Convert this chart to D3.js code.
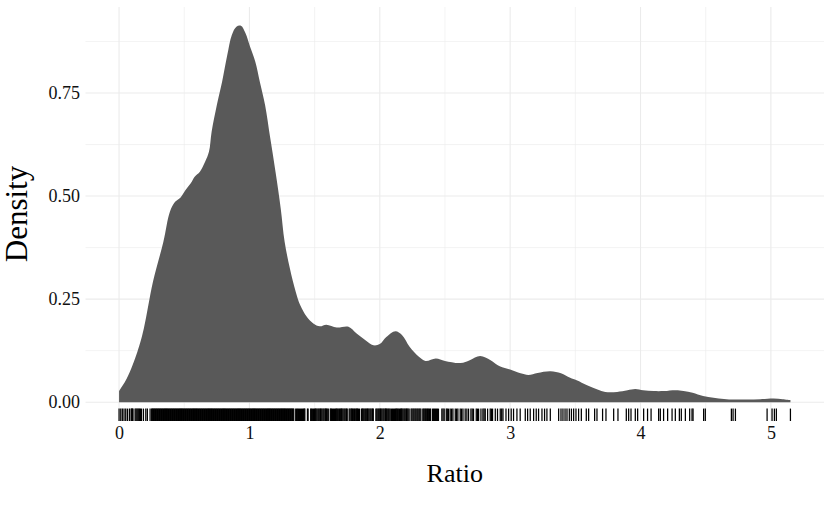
<!DOCTYPE html>
<html>
<head>
<meta charset="utf-8">
<script src="https://cdn.jsdelivr.net/npm/d3@7"></script>
<style>
  body { margin: 0; background: #fff; }
  svg { display: block; font-family: "Liberation Serif", "DejaVu Serif", serif; }
  .grid line { stroke: #ebebeb; }
</style>
</head>
<body>
<svg width="830" height="513"></svg>
<script>
// density estimate
var densX = [0, 0.06, 0.14, 0.19, 0.26, 0.34, 0.39, 0.43, 0.47, 0.51, 0.55, 0.58, 0.62, 0.66, 0.69, 0.71,
  0.75, 0.79, 0.83, 0.865, 0.90, 0.935, 0.97, 1.005, 1.045, 1.08, 1.12, 1.16, 1.20, 1.24, 1.27, 1.31,
  1.355, 1.39, 1.44, 1.49, 1.54, 1.59, 1.67, 1.76, 1.82, 1.89, 1.95, 2.00, 2.05, 2.12, 2.17, 2.23,
  2.30, 2.35, 2.43, 2.50, 2.62, 2.69, 2.77, 2.85, 2.92, 3.00, 3.08, 3.14, 3.21, 3.31, 3.39, 3.46,
  3.51, 3.59, 3.67, 3.73, 3.82, 3.90, 3.96, 4.02, 4.10, 4.18, 4.27, 4.33, 4.40, 4.48, 4.56, 4.64,
  4.72, 4.82, 4.92, 5.02, 5.09, 5.15];
var densY = [0.027, 0.058, 0.122, 0.179, 0.292, 0.389, 0.462, 0.486, 0.496, 0.515, 0.531, 0.547, 0.559, 0.583, 0.608, 0.656,
  0.721, 0.777, 0.842, 0.891, 0.911, 0.913, 0.895, 0.862, 0.826, 0.777, 0.721, 0.640, 0.559, 0.470, 0.389, 0.325,
  0.268, 0.235, 0.207, 0.191, 0.184, 0.188, 0.181, 0.183, 0.167, 0.150, 0.138, 0.141, 0.158, 0.172, 0.163, 0.134,
  0.110, 0.100, 0.106, 0.100, 0.095, 0.102, 0.112, 0.102, 0.087, 0.079, 0.070, 0.066, 0.071, 0.075, 0.070, 0.059,
  0.053, 0.041, 0.031, 0.025, 0.025, 0.029, 0.032, 0.029, 0.027, 0.027, 0.029, 0.027, 0.023, 0.015, 0.011, 0.008,
  0.0065, 0.0065, 0.0073, 0.009, 0.0073, 0.005];

var rugLow = [0.00, 0.013, 0.025, 0.038, 0.051, 0.064, 0.079, 0.092, 0.097, 0.102, 0.107, 0.123, 0.13, 0.137,
  0.144, 0.151, 0.158, 0.165, 0.172, 0.187, 0.205, 0.217, 0.238];
var rugDense = [0.25, 0.26, 0.27, 0.28, 0.29, 0.30, 0.31, 0.32, 0.33, 0.34, 0.35, 0.36, 0.37, 0.38, 0.39,
  0.40, 0.41, 0.42, 0.43, 0.44, 0.45, 0.46, 0.47, 0.48, 0.49, 0.50, 0.51, 0.52, 0.53, 0.54, 0.55, 0.56,
  0.57, 0.58, 0.59, 0.60, 0.61, 0.62, 0.63, 0.64, 0.65, 0.66, 0.67, 0.68, 0.69, 0.70, 0.71, 0.72, 0.73,
  0.74, 0.75, 0.76, 0.77, 0.78, 0.79, 0.80, 0.81, 0.82, 0.83, 0.84, 0.85, 0.86, 0.87, 0.88, 0.89, 0.90,
  0.91, 0.92, 0.93, 0.94, 0.95, 0.96, 0.97, 0.98, 0.99, 1.00, 1.01, 1.02, 1.03, 1.04, 1.05, 1.06, 1.07,
  1.08, 1.09, 1.10, 1.11, 1.12, 1.13, 1.14, 1.15, 1.16, 1.17, 1.18, 1.19, 1.20, 1.21, 1.22, 1.23, 1.24,
  1.25, 1.26, 1.27, 1.28, 1.29, 1.30, 1.31, 1.32, 1.33, 1.34];
var rugDense2 = [0.255, 0.265, 0.275, 0.285, 0.295, 0.305, 0.315, 0.325, 0.335, 0.345, 0.355, 0.365, 0.375,
  0.385, 0.395, 0.405, 0.415, 0.425, 0.435, 0.445, 0.455, 0.465, 0.475, 0.485, 0.495, 0.505, 0.515, 0.525,
  0.535, 0.545, 0.555, 0.565, 0.575, 0.585, 0.595, 0.605, 0.615, 0.625, 0.635, 0.645, 0.655, 0.665, 0.675,
  0.685, 0.695, 0.705, 0.715, 0.725, 0.735, 0.745, 0.755, 0.765, 0.775, 0.785, 0.795, 0.805, 0.815, 0.825,
  0.835, 0.845, 0.855, 0.865, 0.875, 0.885, 0.895, 0.905, 0.915, 0.925, 0.935, 0.945, 0.955, 0.965, 0.975,
  0.985, 0.995, 1.005, 1.015, 1.025, 1.035, 1.045, 1.055, 1.065, 1.075, 1.085, 1.095, 1.105, 1.115, 1.125,
  1.135, 1.145, 1.155, 1.165, 1.175, 1.185, 1.195, 1.205, 1.215, 1.225, 1.235, 1.245, 1.255, 1.265, 1.275,
  1.285, 1.295, 1.305, 1.315, 1.325, 1.335];
var rugMid = [1.355, 1.37, 1.385, 1.40, 1.415, 1.425, 1.445, 1.45, 1.47, 1.485, 1.50, 1.51, 1.525, 1.54,
  1.55, 1.565, 1.58, 1.59, 1.605, 1.62, 1.63, 1.645, 1.66, 1.67, 1.685, 1.70, 1.71, 1.725, 1.74, 1.75,
  1.765, 1.78, 1.79, 1.805, 1.82, 1.83, 1.845, 1.86, 1.87, 1.885, 1.90, 1.91, 1.925, 1.94, 1.95, 1.97,
  1.985, 2.00, 2.01, 2.025, 2.04, 2.05, 2.065, 2.08, 2.09, 2.105, 2.12, 2.13, 2.145, 2.16, 2.17, 2.185,
  2.20, 2.21, 2.225, 2.24, 2.255, 2.27, 2.285, 2.30, 2.315, 2.33, 2.345, 2.36, 2.375, 2.39, 2.405, 2.42,
  2.435, 2.45];
var rugMid2 = [1.362, 1.377, 1.392, 1.407, 1.42, 1.475, 1.492, 1.505, 1.517, 1.532, 1.545, 1.557, 1.572,
  1.585, 1.597, 1.625, 1.637, 1.652, 1.665, 1.677, 1.692, 1.705, 1.717, 1.732, 1.745, 1.772, 1.785, 1.797,
  1.812, 1.825, 1.837, 1.865, 1.877, 1.892, 1.905, 1.917, 1.932, 1.945, 1.977, 1.992, 2.005, 2.017, 2.032,
  2.045, 2.057, 2.072, 2.097, 2.112, 2.125, 2.137, 2.152, 2.165, 2.177, 2.192, 2.205, 2.217, 2.247, 2.262,
  2.277, 2.292, 2.307, 2.337, 2.352, 2.367, 2.382, 2.412, 2.427, 2.442];
var rugHigh = [2.476, 2.485, 2.494, 2.51, 2.518, 2.527, 2.54, 2.551, 2.561, 2.579, 2.589, 2.599, 2.617, 2.627,
  2.638, 2.655, 2.668, 2.681, 2.699, 2.709, 2.719, 2.74, 2.749, 2.758, 2.776, 2.791, 2.80, 2.809, 2.827,
  2.847, 2.856, 2.865, 2.886, 2.903, 2.924, 2.935, 2.945, 2.968, 2.988, 3.008, 3.026, 3.052, 3.077, 3.116,
  3.134, 3.154, 3.18, 3.20, 3.218, 3.244, 3.264, 3.282, 3.308, 3.372, 3.39, 3.405, 3.421, 3.436, 3.454,
  3.47, 3.487, 3.505, 3.525, 3.546, 3.584, 3.602, 3.648, 3.666, 3.709, 3.735, 3.794, 3.827, 3.891, 3.909,
  3.927, 3.96, 3.978, 4.024, 4.054, 4.081, 4.139, 4.152, 4.177, 4.208, 4.242, 4.267, 4.298, 4.313, 4.344,
  4.377, 4.395, 4.403, 4.484, 4.497, 4.697, 4.71, 4.728, 4.971, 5.009, 5.027, 5.042, 5.15];

var xTicks = [0, 1, 2, 3, 4, 5];
var xMinor = [0.5, 1.5, 2.5, 3.5, 4.5];
var yTicks = [0, 0.25, 0.5, 0.75];
var yMinor = [0.125, 0.375, 0.625, 0.875];

var svg = d3.select("svg");
var pLeft = 85.5, pRight = 824, pTop = 7, pBottom = 421;

var rug = rugLow.concat(rugDense, rugDense2, rugMid, rugMid2, rugHigh);
var density = densX.map(function(x, i) { return { x: x, y: densY[i] }; });

// ggplot-style 5% expansion
var xMax = d3.max(densX), yMax = d3.max(densY);
var xScale = d3.scaleLinear().domain([-0.05 * xMax, xMax * 1.05]).range([pLeft, pRight]);
var yScale = d3.scaleLinear().domain([-0.05 * yMax, yMax * 1.05]).range([pBottom, pTop]);

var grid = svg.append("g").attr("class", "grid");
grid.selectAll(".vmin").data(xMinor).enter().append("line")
  .attr("x1", function(d) { return xScale(d); }).attr("x2", function(d) { return xScale(d); })
  .attr("y1", pTop).attr("y2", pBottom).attr("stroke-width", 0.6);
grid.selectAll(".hmin").data(yMinor).enter().append("line")
  .attr("x1", pLeft).attr("x2", pRight)
  .attr("y1", function(d) { return yScale(d); }).attr("y2", function(d) { return yScale(d); })
  .attr("stroke-width", 0.6);
grid.selectAll(".vmaj").data(xTicks).enter().append("line")
  .attr("x1", function(d) { return xScale(d); }).attr("x2", function(d) { return xScale(d); })
  .attr("y1", pTop).attr("y2", pBottom).attr("stroke-width", 1.1);
grid.selectAll(".hmaj").data(yTicks).enter().append("line")
  .attr("x1", pLeft).attr("x2", pRight)
  .attr("y1", function(d) { return yScale(d); }).attr("y2", function(d) { return yScale(d); })
  .attr("stroke-width", 1.1);

var area = d3.area()
  .x(function(d) { return xScale(d.x); })
  .y0(yScale(0))
  .y1(function(d) { return yScale(d.y); })
  .curve(d3.curveCatmullRom);

svg.append("path")
  .datum(density)
  .attr("d", area)
  .attr("fill", "#595959");

var rugLen = (pBottom - pTop) * 0.03;
svg.append("g").selectAll("line")
  .data(rug)
  .enter()
  .append("line")
  .attr("x1", function(d) { return xScale(d); })
  .attr("x2", function(d) { return xScale(d); })
  .attr("y1", pBottom)
  .attr("y2", pBottom - rugLen)
  .attr("stroke", "#000")
  .attr("stroke-width", 1.25);

var xAxis = svg.append("g")
  .attr("transform", "translate(0," + pBottom + ")")
  .call(d3.axisBottom(xScale).tickValues(xTicks).tickFormat(d3.format("d")).tickSize(0).tickPadding(5.5));
var yAxis = svg.append("g")
  .attr("transform", "translate(" + pLeft + ",0)")
  .call(d3.axisLeft(yScale).tickValues(yTicks).tickFormat(d3.format(".2f")).tickSize(0).tickPadding(5.5));

[xAxis, yAxis].forEach(function(a) {
  a.select(".domain").remove();
  a.selectAll("text")
    .attr("fill", "#111")
    .style("font-family", "'Liberation Serif', serif")
    .style("font-size", "18px");
});

svg.append("text")
  .attr("x", (pLeft + pRight) / 2)
  .attr("y", 482)
  .attr("text-anchor", "middle")
  .style("font-size", "26px")
  .text("Ratio");

svg.append("text")
  .attr("transform", "translate(27," + (pTop + pBottom) / 2 + ") rotate(-90)")
  .attr("text-anchor", "middle")
  .style("font-size", "31px")
  .text("Density");
</script>
</body>
</html>
